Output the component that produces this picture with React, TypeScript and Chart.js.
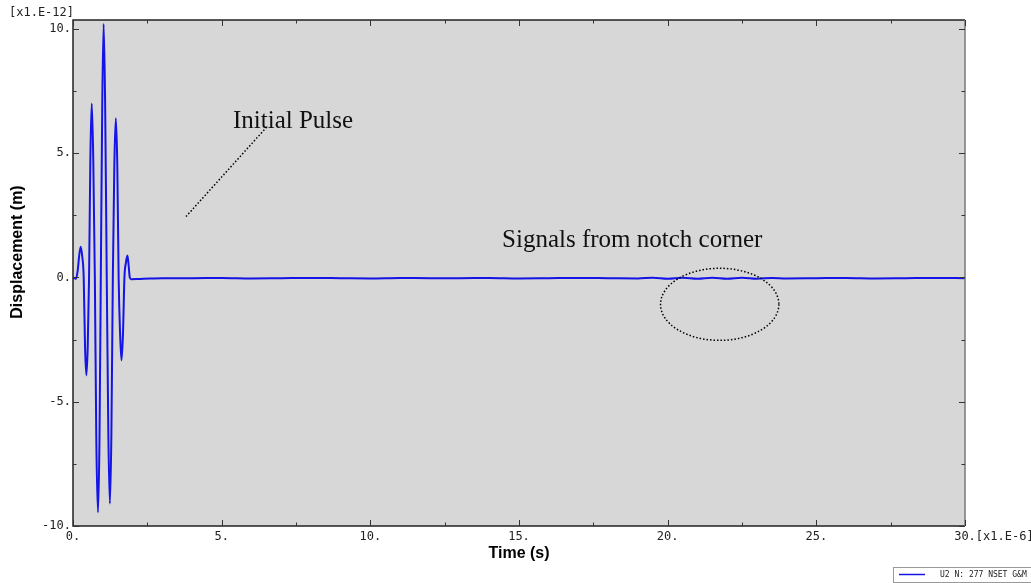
import { useEffect, useRef } from 'react';
import { Chart, registerables } from 'chart.js';

Chart.register(...registerables);

// ---- data (time in µs, displacement in 1e-12 m) ----
const pulseTimeUs = [
  0, 0.1, 0.16, 0.21, 0.26, 0.31, 0.36, 0.405, 0.45, 0.495, 0.54, 0.585, 0.63, 0.68,
  0.735, 0.785, 0.84, 0.89, 0.935, 0.985, 1.03, 1.08, 1.135, 1.19, 1.24, 1.29, 1.34,
  1.39, 1.44, 1.49, 1.535, 1.585, 1.63, 1.68, 1.73, 1.78, 1.83, 1.87, 1.91, 1.96,
];
const pulseDispE12 = [
  0, -0.05, 0.3, 0.9, 1.24, 0.85, 0, -2.8, -3.94, -2.8, 0, 4.9, 7.0, 4.9,
  0, -6.6, -9.45, -6.6, 0, 7.1, 10.2, 7.1, 0, -6.4, -9.1, -6.4, 0,
  4.5, 6.41, 4.5, 0, -2.3, -3.33, -2.3, 0, 0.6, 0.88, 0.5, 0.0, -0.07,
];
const tailTimeUs = [
  2.2, 2.6, 3, 4, 5, 6, 7, 8, 9, 10, 11, 12, 13, 14, 15, 16, 17, 18, 19, 19.5,
  20, 20.5, 21, 21.5, 22, 22.5, 23, 23.5, 24, 25, 26, 27, 28, 29, 30,
];
const tailDispE12 = [
  -0.06, -0.04, -0.03, -0.03, -0.02, -0.04, -0.03, -0.02, -0.03, -0.04, -0.02, -0.03,
  -0.03, -0.02, -0.04, -0.03, -0.02, -0.03, -0.04, -0.01, -0.05, -0.01, -0.05, -0.01,
  -0.05, -0.01, -0.05, -0.02, -0.04, -0.03, -0.02, -0.04, -0.03, -0.02, -0.03,
];

const seriesLabel = 'U2 N: 277 NSET G&M';
const xTitle = 'Time (s)';
const yTitle = 'Displacement (m)';
const xUnit = '[x1.E-6]';
const yUnit = '[x1.E-12]';
const pulseNote = 'Initial Pulse';
const notchNote = 'Signals from notch corner';

// annotation placement (data coordinates)
const notes = {
  pulseText: { t: 5.38, v: 6.01 },
  pulseLineFrom: { t: 3.8, v: 2.45 },
  pulseLineTo: { t: 6.55, v: 6.1 },
  notchText: { t: 14.43, v: 1.22 },
  ellipse: { t: 21.75, v: -1.08, rt: 1.99, rv: 1.45 },
};

const tickFont = { family: '"DejaVu Sans Mono", monospace', size: 12 };
const titleFont = { family: '"Liberation Sans", Arial, sans-serif', size: 16, weight: 'bold' as const };

const decor = {
  id: 'decor',
  beforeDraw(chart: any) {
    const { ctx, chartArea: a } = chart;
    ctx.save();
    ctx.fillStyle = '#d7d7d7';
    ctx.fillRect(a.left, a.top, a.right - a.left, a.bottom - a.top);
    ctx.restore();
  },
  afterDatasetsDraw(chart: any) {
    const { ctx, chartArea: a, scales } = chart;
    const x = scales.x;
    const y = scales.y;
    ctx.save();
    // frame
    ctx.lineWidth = 1.5;
    ctx.strokeStyle = '#222';
    ctx.beginPath();
    ctx.moveTo(a.right, a.top);
    ctx.lineTo(a.left, a.top);
    ctx.lineTo(a.left, a.bottom);
    ctx.lineTo(a.right, a.bottom);
    ctx.stroke();
    ctx.strokeStyle = '#777';
    ctx.beginPath();
    ctx.moveTo(a.right, a.top);
    ctx.lineTo(a.right, a.bottom);
    ctx.stroke();
    // inward ticks
    ctx.strokeStyle = '#333';
    ctx.lineWidth = 1;
    ctx.beginPath();
    x.ticks.forEach((tk: any) => {
      const px = Math.round(x.getPixelForValue(tk.value)) + 0.5;
      const len = tk.value % 5 === 0 ? 6 : 3.5;
      ctx.moveTo(px, a.bottom);
      ctx.lineTo(px, a.bottom - len);
      ctx.moveTo(px, a.top);
      ctx.lineTo(px, a.top + len);
    });
    y.ticks.forEach((tk: any) => {
      const py = Math.round(y.getPixelForValue(tk.value)) + 0.5;
      const len = tk.value % 5 === 0 ? 6 : 3.5;
      ctx.moveTo(a.left, py);
      ctx.lineTo(a.left + len, py);
      ctx.moveTo(a.right, py);
      ctx.lineTo(a.right - len, py);
    });
    ctx.stroke();

    // annotations
    ctx.fillStyle = '#111';
    ctx.font = '25px "Liberation Serif", "Times New Roman", serif';
    ctx.textAlign = 'left';
    ctx.textBaseline = 'alphabetic';
    ctx.fillText(pulseNote, x.getPixelForValue(notes.pulseText.t), y.getPixelForValue(notes.pulseText.v));
    ctx.fillText(notchNote, x.getPixelForValue(notes.notchText.t), y.getPixelForValue(notes.notchText.v));

    ctx.strokeStyle = '#000';
    ctx.lineWidth = 1.5;
    ctx.setLineDash([1.5, 2]);
    ctx.beginPath();
    ctx.moveTo(x.getPixelForValue(notes.pulseLineFrom.t), y.getPixelForValue(notes.pulseLineFrom.v));
    ctx.lineTo(x.getPixelForValue(notes.pulseLineTo.t), y.getPixelForValue(notes.pulseLineTo.v));
    ctx.stroke();

    const e = notes.ellipse;
    const cx = x.getPixelForValue(e.t);
    const cy = y.getPixelForValue(e.v);
    const rx = Math.abs(x.getPixelForValue(e.t + e.rt) - cx);
    const ry = Math.abs(y.getPixelForValue(e.v + e.rv) - cy);
    ctx.beginPath();
    ctx.ellipse(cx, cy, rx, ry, 0, 0, Math.PI * 2);
    ctx.stroke();
    ctx.restore();
  },
  afterDraw(chart: any) {
    const { ctx, chartArea: a, scales } = chart;
    const x = scales.x;
    ctx.save();
    ctx.fillStyle = '#222';
    ctx.font = `${tickFont.size}px ${tickFont.family}`;
    ctx.textBaseline = 'middle';
    ctx.textAlign = 'left';
    ctx.fillText(yUnit, 9, 13);
    const w30 = ctx.measureText('30.').width;
    ctx.fillText(xUnit, x.getPixelForValue(30) + w30 / 2, a.bottom + 11);

    // y-axis title (rotated)
    ctx.save();
    ctx.translate(18, 252);
    ctx.rotate(-Math.PI / 2);
    ctx.fillStyle = '#000';
    ctx.font = `bold ${titleFont.size}px ${titleFont.family}`;
    ctx.textAlign = 'center';
    ctx.textBaseline = 'middle';
    ctx.fillText(yTitle, 0, 0);
    ctx.restore();

    // legend box
    ctx.strokeStyle = '#999';
    ctx.lineWidth = 1;
    ctx.strokeRect(893.5, 567.5, 150, 15);
    ctx.strokeStyle = '#1414e6';
    ctx.lineWidth = 1.5;
    ctx.beginPath();
    ctx.moveTo(899, 574.5);
    ctx.lineTo(925, 574.5);
    ctx.stroke();
    ctx.fillStyle = '#222';
    ctx.font = '8px "DejaVu Sans Mono", monospace';
    ctx.textAlign = 'left';
    ctx.textBaseline = 'middle';
    ctx.fillText(seriesLabel, 940, 575);
    ctx.restore();
  },
};

export default function App() {
  const ref = useRef<HTMLCanvasElement>(null);
  useEffect(() => {
    const points = [
      ...pulseTimeUs.map((t, i) => ({ x: t, y: pulseDispE12[i] })),
      ...tailTimeUs.map((t, i) => ({ x: t, y: tailDispE12[i] })),
    ];
    const fmt = (v: any) => (Math.abs(v % 5) < 1e-9 ? `${v}.` : '');
    const chart = new Chart(ref.current as HTMLCanvasElement, {
      type: 'line',
      data: {
        datasets: [
          {
            label: seriesLabel,
            data: points,
            borderColor: '#1414e6',
            borderWidth: 2,
            pointRadius: 0,
            cubicInterpolationMode: 'monotone',
            fill: false,
          },
        ],
      },
      options: {
        animation: false,
        responsive: false,
        devicePixelRatio: 1,
        layout: { padding: { top: 20, right: 66, left: 0, bottom: 0 } },
        plugins: { legend: { display: false }, tooltip: { enabled: false } },
        scales: {
          x: {
            type: 'linear',
            min: 0,
            max: 30,
            afterFit: (s: any) => {
              s.height = 57;
            },
            ticks: {
              stepSize: 2.5,
              autoSkip: false,
              maxRotation: 0,
              padding: 4,
              font: tickFont,
              color: '#222',
              callback: fmt,
            },
            grid: { display: false, drawTicks: false },
            border: { display: false },
            title: {
              display: true,
              text: xTitle,
              font: titleFont,
              color: '#000',
              padding: { top: 0, bottom: 20 },
            },
          },
          y: {
            type: 'linear',
            min: -10,
            max: 10.36,
            afterFit: (s: any) => {
              s.width = 73;
            },
            ticks: {
              stepSize: 2.5,
              includeBounds: false,
              autoSkip: false,
              padding: 2,
              font: tickFont,
              color: '#222',
              callback: fmt,
            },
            grid: { display: false, drawTicks: false },
            border: { display: false },
            title: { display: false, text: yTitle },
          },
        },
      },
      plugins: [decor],
    });
    return () => chart.destroy();
  }, []);
  return (
    <div style={{ position: 'absolute', left: 0, top: 0, width: 1031, height: 583, background: '#fff' }}>
      <canvas ref={ref} width={1031} height={583} style={{ display: 'block' }} />
    </div>
  );
}
